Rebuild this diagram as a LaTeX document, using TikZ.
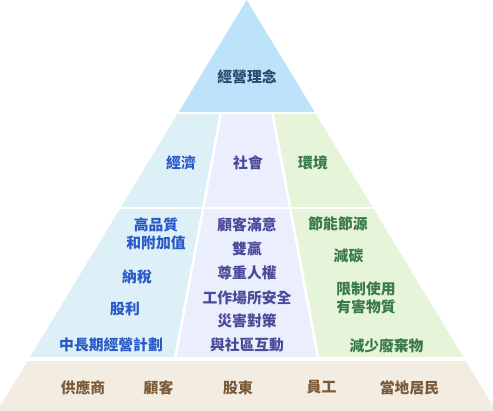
\documentclass[tikz,border=0pt]{standalone}
\usepackage{fontspec}
\newfontfamily\cjk{Noto Sans CJK TC}
\definecolor{topfill}{HTML}{BDE3FA}
\definecolor{ecofill}{HTML}{DDF0F7}
\definecolor{socfill}{HTML}{EBEEFD}
\definecolor{envfill}{HTML}{E6F4DA}
\definecolor{basefill}{HTML}{F2ECE1}
\definecolor{toptext}{HTML}{2D4A70}
\definecolor{ecotext}{HTML}{2A58C8}
\definecolor{soctext}{HTML}{4A4A9A}
\definecolor{envtext}{HTML}{3A7A4A}
\definecolor{basetext}{HTML}{7A5A38}
\begin{document}
\begin{tikzpicture}[x=1pt,y=-1pt,
  lbl/.style={font=\cjk\bfseries\fontsize{14.8}{18.2}\selectfont, inner sep=0pt, align=center},
  toplbl/.style={lbl, text=toptext},
  ecolbl/.style={lbl, text=ecotext},
  soclbl/.style={lbl, text=soctext},
  envlbl/.style={lbl, text=envtext},
  baselbl/.style={lbl, text=basetext},
  gap/.style={draw=white}
]
\useasboundingbox (0,0) rectangle (493,411);
% top triangle
\fill[topfill] (246.7,0) -- (315.3,113) -- (178.1,113) -- cycle;
% level 2
\fill[ecofill] (178.1,113) -- (221,113) -- (203.3,208) -- (120.4,208) -- cycle;
\fill[socfill] (221,113) -- (272.4,113) -- (290.1,208) -- (203.3,208) -- cycle;
\fill[envfill] (272.4,113) -- (315.3,113) -- (373.0,208) -- (290.1,208) -- cycle;
% level 3
\fill[ecofill] (120.4,208) -- (203.3,208) -- (175.1,359) -- (28.8,359) -- cycle;
\fill[socfill] (203.3,208) -- (290.1,208) -- (318.3,359) -- (175.1,359) -- cycle;
\fill[envfill] (290.1,208) -- (373.0,208) -- (464.6,359) -- (318.3,359) -- cycle;
% base
\fill[basefill] (28.8,359) -- (464.6,359) -- (496.2,411) -- (-2.8,411) -- cycle;
% white gaps
\draw[gap, line width=2.2pt] (0,113) -- (493,113);
\draw[gap, line width=2.4pt] (0,208) -- (493,208);
\draw[gap, line width=3.6pt] (0,359) -- (493,359);
\draw[gap, line width=2.6pt] (221,113) -- (175.1,359);
\draw[gap, line width=2.6pt] (272.4,113) -- (318.3,359);
% labels
\node[toplbl] (philo) at (247,77) {經營理念};
\node[ecolbl] (eco) at (181,163) {經濟};
\node[soclbl] (soc) at (248,163) {社會};
\node[envlbl] (env) at (313,163) {環境};
\node[ecolbl] (e1) at (156,234) {高品質\\和附加值};
\node[ecolbl] (e2) at (137,276.5) {納稅};
\node[ecolbl] (e3) at (125,308.5) {股利};
\node[ecolbl] (e4) at (111,345) {中長期經營計劃};
\node[soclbl] (s1) at (247,225) {顧客滿意};
\node[soclbl] (s2) at (247,249) {雙贏};
\node[soclbl] (s3) at (247,273) {尊重人權};
\node[soclbl] (s4) at (247,297.5) {工作場所安全};
\node[soclbl] (s5) at (247,321) {災害對策};
\node[soclbl] (s6) at (247,345) {與社區互動};
\node[envlbl] (v1) at (338,223.5) {節能節源};
\node[envlbl] (v2) at (348.5,256) {減碳};
\node[envlbl] (v3) at (366,298) {限制使用\\有害物質};
\node[envlbl] (v4) at (386.5,346) {減少廢棄物};
\node[baselbl] (b1) at (83,387.5) {供應商};
\node[baselbl] (b2) at (158.5,387.5) {顧客};
\node[baselbl] (b3) at (238,387.5) {股東};
\node[baselbl] (b4) at (321.5,387.5) {員工};
\node[baselbl] (b5) at (409.5,387.5) {當地居民};
\end{tikzpicture}
\end{document}
